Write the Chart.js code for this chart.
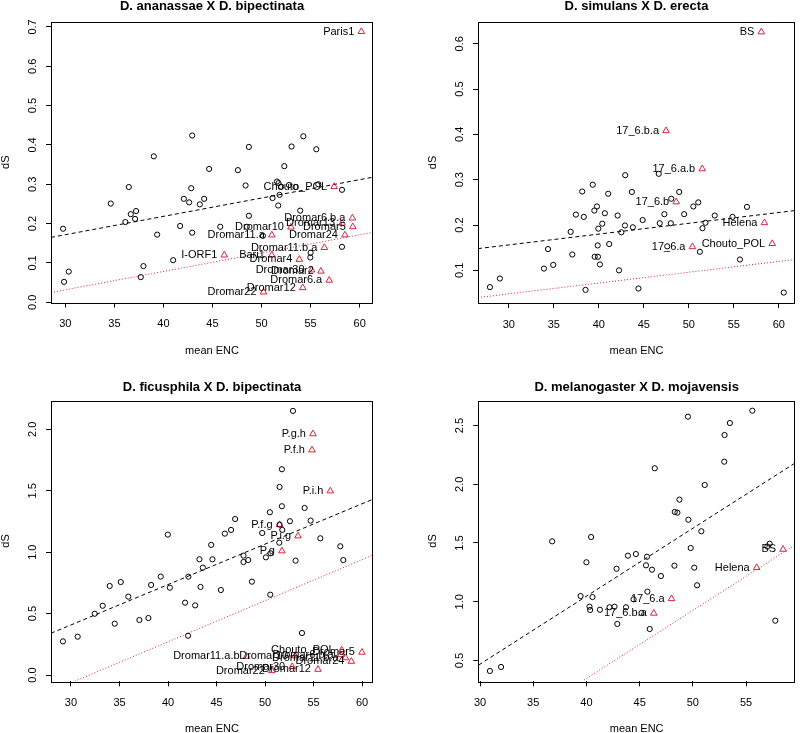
<!DOCTYPE html>
<html>
<head>
<meta charset="utf-8">
<script src="https://cdn.jsdelivr.net/npm/chart.js@4.4.1/dist/chart.umd.min.js"></script>
<style>
  html, body { margin: 0; padding: 0; background: #fff; }
  #wrap { position: relative; width: 800px; height: 733px; overflow: hidden; }
  #wrap canvas { position: absolute; }
</style>
</head>
<body>
<div id="wrap">
  <canvas id="anaChart" width="400" height="366" style="left:0;top:0"></canvas>
  <canvas id="simChart" width="400" height="366" style="left:400px;top:0"></canvas>
  <canvas id="ficChart" width="400" height="367" style="left:0;top:366px"></canvas>
  <canvas id="melChart" width="400" height="367" style="left:400px;top:366px"></canvas>
</div>
<script>
const FONT = '"Liberation Sans", Arial, Helvetica, sans-serif';
const TE_RED = '#D7263A';

// --- D. ananassae X D. bipectinata ---
const anaEnc = [42.93, 39.02, 48.71, 54.26, 53.06, 55.58, 44.66, 47.59, 52.32, 36.47, 42.83, 48.37,
    51.57, 51.73, 52.0, 52.8, 53.46, 55.78, 58.2, 51.84, 51.12, 51.7, 53.94, 48.71, 34.63, 42.08,
    42.62, 44.15, 43.71, 36.67, 37.21, 36.12, 37.11, 29.77, 39.36, 41.7, 42.93, 45.79, 48.5, 50.14,
    55.0, 54.97, 58.2, 29.87, 30.35, 37.96, 37.69, 40.99];
const anaDs = [0.424, 0.371, 0.395, 0.422, 0.396, 0.389, 0.339, 0.336, 0.346, 0.293, 0.290, 0.297,
    0.307, 0.303, 0.294, 0.298, 0.293, 0.300, 0.286, 0.273, 0.265, 0.246, 0.233, 0.220, 0.251, 0.263,
    0.254, 0.263, 0.249, 0.224, 0.232, 0.204, 0.212, 0.187, 0.172, 0.194, 0.177, 0.192, 0.192, 0.169,
    0.126, 0.114, 0.141, 0.052, 0.078, 0.092, 0.064, 0.107];
const anaTeNames = ['Paris1', 'Chouto_POL', 'Dromar6.b.a', 'Dromar13', 'Dromar5', 'Dromar10', 'Dromar11.a',
    'Dromar24', 'Dromar11.b.a', 'I-ORF1', 'Bari1', 'Dromar4', 'Dromar30', 'Dromar2', 'Dromar6.a',
    'Dromar12', 'Dromar22'];
const anaTeEnc = [60.17, 57.4, 59.26, 58.2, 59.3, 53.0, 51.05, 58.5, 56.4, 46.2, 51.05, 53.85, 55.1, 56.05,
    56.9, 54.2, 50.2];
const anaTeDs = [0.688, 0.294, 0.214, 0.201, 0.192, 0.191, 0.171, 0.171, 0.139, 0.120, 0.120, 0.109, 0.082,
    0.079, 0.056, 0.037, 0.026];
const anaLineEnc = [28.54, 61.36];
const anaGeneFit = [0.165, 0.318];
const anaTeFit = [0.025, 0.178];
const anaXTicks = [30, 35, 40, 45, 50, 55, 60];
const anaYTicks = [0.0, 0.1, 0.2, 0.3, 0.4, 0.5, 0.6, 0.7];

// --- D. simulans X D. erecta ---
const simEnc = [46.66, 42.93, 38.15, 39.32, 41.04, 43.67, 48.93, 48.05, 39.79, 39.5, 40.67, 37.45, 38.33,
    42.09, 44.87, 47.28, 50.5, 51.05, 49.48, 52.88, 54.85, 56.46, 51.85, 51.52, 46.77, 48.0, 40.38, 39.94,
    42.9, 43.78, 42.5, 36.87, 34.35, 37.05, 39.87, 41.15, 39.54, 39.9, 40.12, 34.93, 33.9, 42.24, 29.0,
    27.9, 38.52, 44.4, 60.55, 55.68, 51.23, 47.6];
const simDs = [0.313, 0.310, 0.274, 0.289, 0.269, 0.273, 0.273, 0.258, 0.241, 0.232, 0.226, 0.223, 0.218,
    0.221, 0.211, 0.224, 0.241, 0.250, 0.224, 0.221, 0.218, 0.240, 0.205, 0.193, 0.204, 0.204, 0.203, 0.192,
    0.199, 0.195, 0.184, 0.185, 0.147, 0.135, 0.155, 0.158, 0.130, 0.130, 0.113, 0.112, 0.104, 0.100, 0.082,
    0.063, 0.057, 0.060, 0.051, 0.124, 0.141, 0.153];
const simTeNames = ['BS', '17_6.b.a', '17_6.a.b', '17_6.b', 'Helena', '17_6.a', 'Chouto_POL'];
const simTeEnc = [58.06, 47.47, 51.49, 48.6, 58.4, 50.4, 59.27];
const simTeDs = [0.626, 0.408, 0.324, 0.251, 0.205, 0.152, 0.159];
const simLineEnc = [26.57, 61.8];
const simGeneFit = [0.148, 0.232];
const simTeFit = [0.040, 0.124];
const simXTicks = [30, 35, 40, 45, 50, 55, 60];
const simYTicks = [0.1, 0.2, 0.3, 0.4, 0.5, 0.6];

// --- D. ficusphila X D. bipectinata ---
const ficEnc = [52.88, 51.74, 51.5, 51.74, 54.08, 50.5, 46.92, 52.57, 54.7, 46.5, 45.86, 49.71, 51.78, 51.5,
    39.98, 55.7, 51.47, 44.45, 57.76, 50.09, 50.57, 47.78, 47.78, 48.27, 53.15, 58.07, 43.24, 44.58, 43.59,
    42.1, 39.25, 38.26, 40.19, 43.35, 33.99, 35.13, 48.65, 45.45, 50.54, 35.91, 33.27, 32.45, 41.76, 42.8,
    37.05, 37.98, 34.51, 30.69, 29.17, 42.07, 53.81];
const ficDs = [2.150, 1.675, 1.531, 1.374, 1.360, 1.325, 1.270, 1.252, 1.257, 1.181, 1.151, 1.156, 1.181, 1.224,
    1.143, 1.113, 1.077, 1.059, 1.048, 0.958, 0.991, 0.972, 0.920, 0.936, 0.931, 0.936, 0.942, 0.942, 0.874,
    0.801, 0.801, 0.733, 0.711, 0.717, 0.725, 0.757, 0.760, 0.692, 0.654, 0.638, 0.564, 0.499, 0.589, 0.567,
    0.448, 0.464, 0.418, 0.312, 0.274, 0.320, 0.342];
const ficTeNames = ['P.g.h', 'P.f.h', 'P.i.h', 'P.f.g', 'P.i.g', 'P.g', 'Dromar11.a.b', 'Dromar10',
    'Dromar6.b.a', 'Dromar11.b.a', 'Chouto_POL', 'Dromar5', 'Dromar24', 'Dromar30', 'Dromar22', 'Dromar12'];
const ficTeEnc = [54.94, 54.84, 56.73, 51.5, 53.4, 51.74, 48.1, 53.1, 57.8, 58.3, 57.9, 59.99, 58.9, 52.8,
    50.7, 55.46];
const ficTeDs = [1.963, 1.832, 1.498, 1.224, 1.132, 1.010, 0.152, 0.155, 0.165, 0.140, 0.204, 0.185, 0.111,
    0.068, 0.035, 0.046];
const ficGeneLineEnc = [27.94, 61.13];
const ficGeneFit = [0.340, 1.431];
const ficTeLineEnc = [30.41, 61.13];
const ficTeFit = [-0.05, 0.977];
const ficXTicks = [30, 35, 40, 45, 50, 55, 60];
const ficYTicks = [0.0, 0.5, 1.0, 1.5, 2.0];

// --- D. melanogaster X D. mojavensis ---
const melEnc = [55.59, 49.54, 53.48, 52.98, 46.42, 52.95, 51.12, 48.74, 48.3, 48.55, 49.58, 50.8, 36.78,
    40.44, 49.8, 57.22, 57.0, 40.0, 43.9, 44.65, 45.69, 45.6, 46.16, 48.27, 50.13, 42.83, 47.0, 50.4, 45.73,
    39.45, 40.57, 44.43, 40.29, 40.35, 41.27, 42.17, 42.64, 43.72, 45.17, 42.9, 45.95, 57.75, 31.98, 30.93];
const melDs = [2.626, 2.575, 2.521, 2.419, 2.136, 2.192, 1.994, 1.869, 1.764, 1.758, 1.698, 1.600, 1.514,
    1.551, 1.457, 1.494, 1.470, 1.336, 1.392, 1.406, 1.383, 1.310, 1.273, 1.307, 1.290, 1.281, 1.219, 1.140,
    1.086, 1.049, 1.040, 1.021, 0.958, 0.930, 0.932, 0.953, 0.958, 0.953, 0.904, 0.811, 0.768, 0.839, 0.445,
    0.411];
const melTeNames = ['BS', 'Helena', '17_6.a', '17_6.b.a'];
const melTeEnc = [58.48, 56.0, 48.0, 46.33];
const melTeDs = [1.446, 1.290, 1.026, 0.902];
const melGeneLineEnc = [29.88, 59.6];
const melGeneFit = [0.462, 2.18];
const melTeLineEnc = [39.78, 59.6];
const melTeFit = [0.334, 1.483];
const melXTicks = [30, 35, 40, 45, 50, 55];
const melYTicks = [0.5, 1.0, 1.5, 2.0, 2.5];

function pairs(xs, ys) {
    return xs.map((v, i) => ({ x: v, y: ys[i] }));
}

const panels = [
    {
        id: 'anaChart', title: 'D. ananassae X D. bipectinata', titleGap: 16,
        enc: anaEnc, ds: anaDs, teNames: anaTeNames, teEnc: anaTeEnc, teDs: anaTeDs,
        geneLine: pairs(anaLineEnc, anaGeneFit), teLine: pairs(anaLineEnc, anaTeFit),
        xTicks: anaXTicks, yTicks: anaYTicks,
        xMin: 28.54, xMax: 61.36, yMin: -0.0005, yMax: 0.7125,
        area: { left: 51, top: 22, right: 373, bottom: 302.5 }
    },
    {
        id: 'simChart', title: 'D. simulans X D. erecta', titleGap: 16,
        enc: simEnc, ds: simDs, teNames: simTeNames, teEnc: simTeEnc, teDs: simTeDs,
        geneLine: pairs(simLineEnc, simGeneFit), teLine: pairs(simLineEnc, simTeFit),
        xTicks: simXTicks, yTicks: simYTicks,
        xMin: 26.57, xMax: 61.8, yMin: 0.028, yMax: 0.648,
        area: { left: 78, top: 22, right: 399, bottom: 303 }
    },
    {
        id: 'ficChart', title: 'D. ficusphila X D. bipectinata', titleGap: 13.5,
        enc: ficEnc, ds: ficDs, teNames: ficTeNames, teEnc: ficTeEnc, teDs: ficTeDs,
        geneLine: pairs(ficGeneLineEnc, ficGeneFit), teLine: pairs(ficTeLineEnc, ficTeFit),
        xTicks: ficXTicks, yTicks: ficYTicks,
        xMin: 27.94, xMax: 61.13, yMin: -0.051, yMax: 2.233,
        area: { left: 51, top: 34.7, right: 373, bottom: 315.3 }
    },
    {
        id: 'melChart', title: 'D. melanogaster X D. mojavensis', titleGap: 13.5,
        enc: melEnc, ds: melDs, teNames: melTeNames, teEnc: melTeEnc, teDs: melTeDs,
        geneLine: pairs(melGeneLineEnc, melGeneFit), teLine: pairs(melTeLineEnc, melTeFit),
        xTicks: melXTicks, yTicks: melYTicks,
        xMin: 29.84, xMax: 59.6, yMin: 0.323, yMax: 2.711,
        area: { left: 78.3, top: 34.7, right: 399, bottom: 315.3 }
    }
];

// box, title, rotated y labels, axis names and TE labels, drawn R-style
function panelDecor(p) {
    return {
        id: 'panelDecor',
        afterDraw(chart) {
            const { ctx, chartArea: a } = chart;
            const yScale = chart.scales.y;
            ctx.save();
            ctx.strokeStyle = '#000';
            ctx.lineWidth = 1;
            ctx.strokeRect(Math.round(a.left) + 0.5, Math.round(a.top) + 0.5,
                Math.round(a.right - a.left) - 1, Math.round(a.bottom - a.top));
            ctx.fillStyle = '#000';

            ctx.font = 'bold 13px ' + FONT;
            ctx.textAlign = 'center';
            ctx.textBaseline = 'middle';
            ctx.fillText(p.title, (a.left + a.right) / 2, a.top - p.titleGap);

            ctx.font = '11px ' + FONT;
            p.yTicks.forEach(v => {
                ctx.save();
                ctx.translate(a.left - 18, yScale.getPixelForValue(v));
                ctx.rotate(-Math.PI / 2);
                ctx.fillText(v.toFixed(1), 0, 0);
                ctx.restore();
            });

            ctx.save();
            ctx.translate(a.left - 45, (a.top + a.bottom) / 2);
            ctx.rotate(-Math.PI / 2);
            ctx.fillText('dS', 0, 0);
            ctx.restore();
            ctx.fillText('mean ENC', (a.left + a.right) / 2, a.bottom + 48);

            ctx.textAlign = 'right';
            const meta = chart.getDatasetMeta(1);
            meta.data.forEach((pt, i) => {
                ctx.fillText(p.teNames[i], pt.x - 7, pt.y);
            });
            ctx.restore();
        }
    };
}

function makePanel(p) {
    const canvas = document.getElementById(p.id);
    const W = canvas.width, H = canvas.height;
    return new Chart(canvas.getContext('2d'), {
        type: 'scatter',
        data: {
            datasets: [
                { data: pairs(p.enc, p.ds), pointStyle: 'circle', pointRadius: 2.6, borderWidth: 1,
                  borderColor: '#000', backgroundColor: 'rgba(0,0,0,0)' },
                { data: pairs(p.teEnc, p.teDs), pointStyle: 'triangle', pointRadius: 3.8, borderWidth: 1,
                  borderColor: TE_RED, backgroundColor: 'rgba(0,0,0,0)' },
                { data: p.geneLine, showLine: true, pointRadius: 0, borderWidth: 1,
                  borderColor: '#000', borderDash: [4, 3] },
                { data: p.teLine, showLine: true, pointRadius: 0, borderWidth: 1,
                  borderColor: TE_RED, borderDash: [1, 2] }
            ]
        },
        options: {
            responsive: false,
            animation: false,
            devicePixelRatio: 1,
            events: [],
            layout: { padding: { left: 0, top: p.area.top, right: W - p.area.right, bottom: 0 } },
            plugins: { legend: { display: false }, tooltip: { enabled: false }, title: { display: false } },
            scales: {
                x: {
                    type: 'linear', min: p.xMin, max: p.xMax,
                    afterBuildTicks: s => { s.ticks = p.xTicks.map(v => ({ value: v })); },
                    afterFit: s => { s.height = H - p.area.bottom; },
                    grid: { display: true, drawOnChartArea: false, drawTicks: true, tickLength: 5, color: '#000' },
                    border: { display: false },
                    ticks: { color: '#000', font: { family: FONT, size: 11 }, padding: 10, maxRotation: 0, autoSkip: false }
                },
                y: {
                    type: 'linear', min: p.yMin, max: p.yMax,
                    afterBuildTicks: s => { s.ticks = p.yTicks.map(v => ({ value: v })); },
                    afterFit: s => { s.width = p.area.left; },
                    grid: { display: true, drawOnChartArea: false, drawTicks: true, tickLength: 5, color: '#000' },
                    border: { display: false },
                    ticks: { display: false }
                }
            }
        },
        plugins: [panelDecor(p)]
    });
}

panels.forEach(makePanel);
</script>
</body>
</html>
